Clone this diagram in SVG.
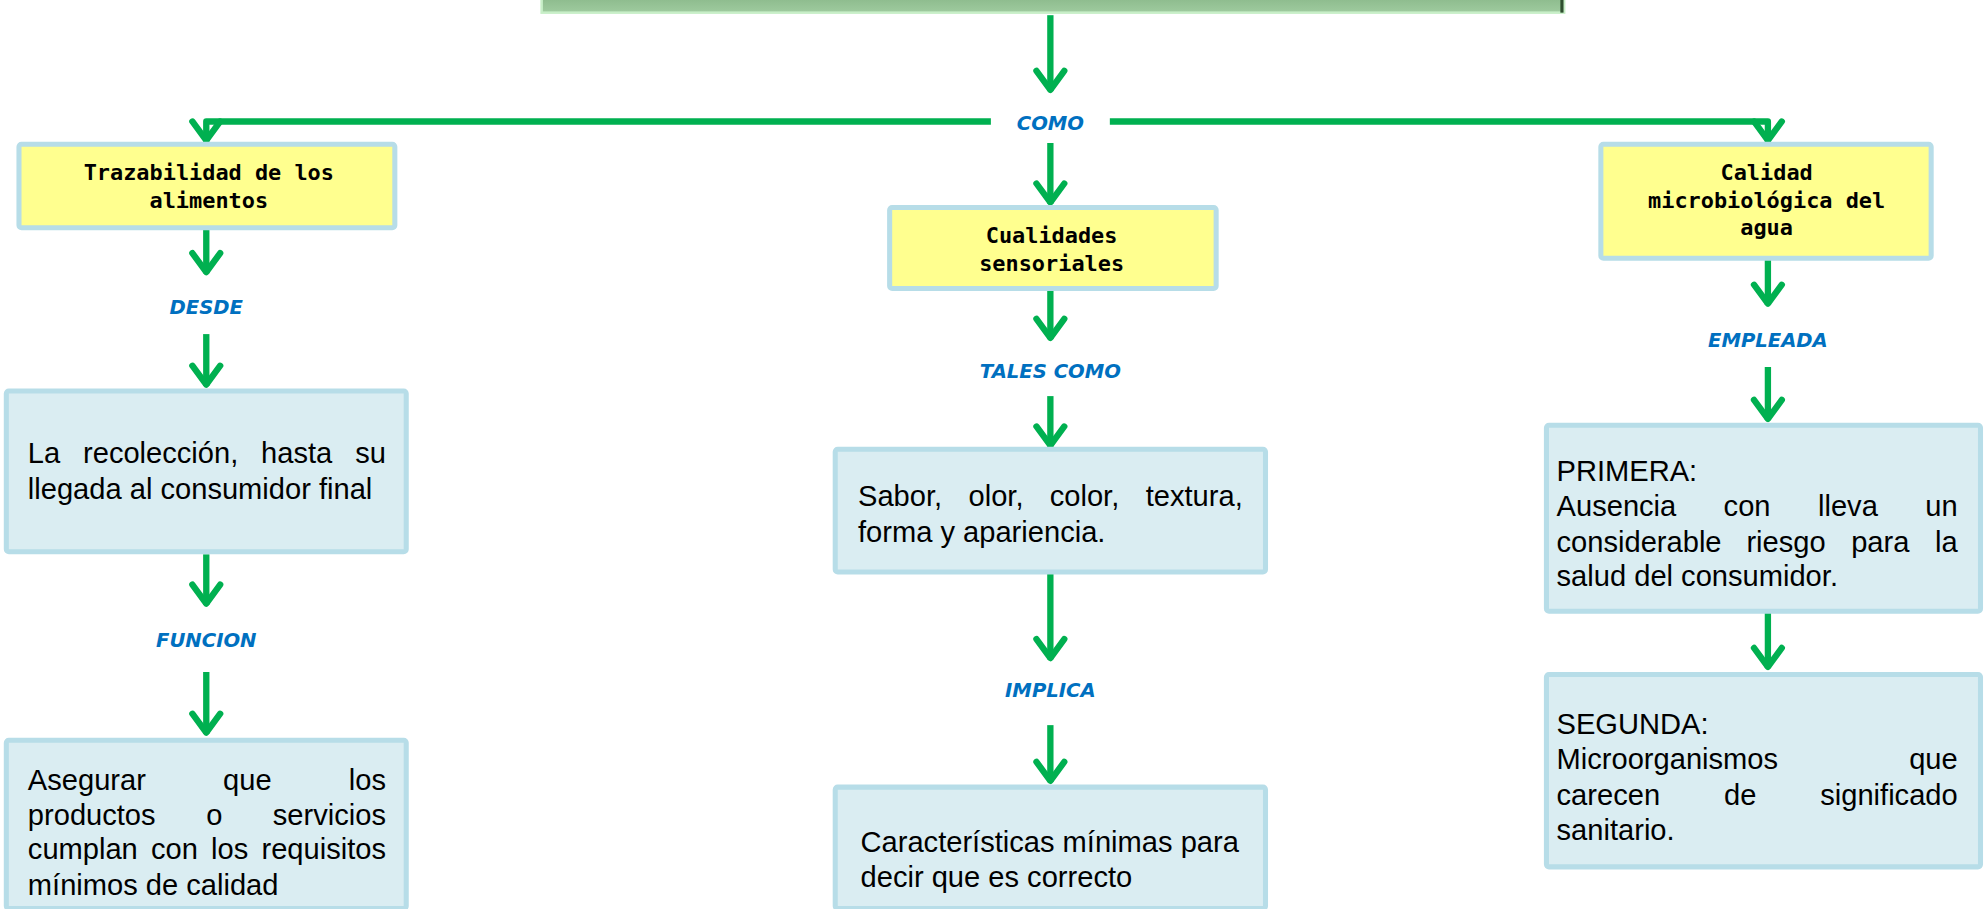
<svg xmlns="http://www.w3.org/2000/svg" width="1984" height="909" viewBox="0 0 1984 909">
<style>
.yb{fill:#ffff8f;stroke:#b7dde8;stroke-width:4}
.bb{fill:#daedf2;stroke:#b7dde8;stroke-width:4}
.ht{font-family:"DejaVu Sans Mono","Liberation Mono",monospace;font-weight:bold;font-size:17.3px;fill:#000;text-anchor:middle}
.bt{font-family:"Liberation Sans",Arial,sans-serif;font-size:23px;fill:#000}
.lb{font-family:"DejaVu Sans",sans-serif;font-style:italic;font-weight:bold;font-size:15.5px;fill:#0070c0;text-anchor:middle}
.cn{fill:none;stroke:#00b050;stroke-width:5;stroke-linejoin:round}
.e{text-anchor:end}
</style>
<defs>
<marker id="chev" markerUnits="userSpaceOnUse" markerWidth="30" markerHeight="30" viewBox="-20 -15 25 30" refX="0" refY="0" orient="auto" style="overflow:visible">
<path d="M-16,-11 L-1,0 L-16,11" fill="none" stroke="#00b050" stroke-width="5" stroke-linecap="round" stroke-linejoin="round"/>
</marker>
<linearGradient id="tg" x1="0" y1="0" x2="0" y2="1">
<stop offset="0" stop-color="#5f925f"/>
<stop offset="1" stop-color="#9fcb9f"/>
</linearGradient>
</defs>
<rect width="1984" height="909" fill="#ffffff"/>
<g transform="scale(1.2655)">

<g id="top">
<rect x="428" y="-30" width="808" height="40" fill="url(#tg)" stroke="#c8efc8" stroke-width="2"/>
<rect x="1233" y="-30" width="2.5" height="40" fill="#2f4f2f"/>
</g>

<g id="connectors">
<path class="cn" d="M830,12 V72" marker-end="url(#chev)"/>
<path class="cn" d="M783,96 H163 V112" marker-end="url(#chev)"/>
<path class="cn" d="M877,96 H1397 V112" marker-end="url(#chev)"/>
<path class="cn" d="M830,113 V161" marker-end="url(#chev)"/>
<path class="cn" d="M163,181 V216" marker-end="url(#chev)"/>
<path class="cn" d="M163,264 V305" marker-end="url(#chev)"/>
<path class="cn" d="M163,438 V478" marker-end="url(#chev)"/>
<path class="cn" d="M163,531 V580" marker-end="url(#chev)"/>
<path class="cn" d="M830,229 V268" marker-end="url(#chev)"/>
<path class="cn" d="M830,313 V353" marker-end="url(#chev)"/>
<path class="cn" d="M830,453 V521" marker-end="url(#chev)"/>
<path class="cn" d="M830,573 V618" marker-end="url(#chev)"/>
<path class="cn" d="M1397,205 V241" marker-end="url(#chev)"/>
<path class="cn" d="M1397,290 V332" marker-end="url(#chev)"/>
<path class="cn" d="M1397,484 V528" marker-end="url(#chev)"/>
</g>

<g id="labels">
<text class="lb" x="830" y="103">COMO</text>
<text class="lb" x="163" y="248">DESDE</text>
<text class="lb" x="163" y="511">FUNCION</text>
<text class="lb" x="830" y="299">TALES COMO</text>
<text class="lb" x="830" y="551">IMPLICA</text>
<text class="lb" x="1397" y="274">EMPLEADA</text>
</g>

<g id="n-trazabilidad">
<rect class="yb" x="15" y="114" width="297" height="66" rx="2"/>
<text class="ht" x="165" y="142">Trazabilidad de los</text>
<text class="ht" x="165" y="164">alimentos</text>
</g>

<g id="n-cualidades">
<rect class="yb" x="703" y="164" width="258" height="64" rx="2"/>
<text class="ht" x="831" y="192">Cualidades</text>
<text class="ht" x="831" y="214">sensoriales</text>
</g>

<g id="n-calidad">
<rect class="yb" x="1265" y="114" width="261" height="90" rx="2"/>
<text class="ht" x="1396" y="142">Calidad</text>
<text class="ht" x="1396" y="164">microbiológica del</text>
<text class="ht" x="1396" y="186">agua</text>
</g>

<g id="n-recoleccion">
<rect class="bb" x="5" y="309" width="316" height="127" rx="2"/>
<text class="bt" y="366"><tspan x="22">La</tspan><tspan x="65.6">recolección,</tspan><tspan x="206.3">hasta</tspan></text>
<text class="bt e" x="305" y="366">su</text>
<text class="bt" x="22" y="394">llegada al consumidor final</text>
</g>

<g id="n-asegurar">
<rect class="bb" x="5" y="585" width="316" height="133" rx="2"/>
<text class="bt" y="624"><tspan x="22">Asegurar</tspan><tspan x="176.3">que</tspan></text>
<text class="bt e" x="305" y="624">los</text>
<text class="bt" y="652"><tspan x="22">productos</tspan><tspan x="162.9">o</tspan></text>
<text class="bt e" x="305" y="652">servicios</text>
<text class="bt" y="679"><tspan x="22">cumplan</tspan><tspan x="119.3">con</tspan><tspan x="166.8">los</tspan></text>
<text class="bt e" x="305" y="679">requisitos</text>
<text class="bt" x="22" y="707">mínimos de calidad</text>
</g>

<g id="n-sabor">
<rect class="bb" x="660" y="355" width="340" height="97" rx="2"/>
<text class="bt" y="400"><tspan x="678">Sabor,</tspan><tspan x="765.3">olor,</tspan><tspan x="829.5">color,</tspan></text>
<text class="bt e" x="982" y="400">textura,</text>
<text class="bt" x="678" y="428">forma y apariencia.</text>
</g>

<g id="n-caracteristicas">
<rect class="bb" x="660" y="622" width="340" height="96" rx="2"/>
<text class="bt" x="680" y="673">Características mínimas para</text>
<text class="bt" x="680" y="701">decir que es correcto</text>
</g>

<g id="n-primera">
<rect class="bb" x="1222" y="336" width="343" height="147" rx="2"/>
<text class="bt" x="1230" y="380">PRIMERA:</text>
<text class="bt" y="408"><tspan x="1230">Ausencia</tspan><tspan x="1362">con</tspan><tspan x="1436.6">lleva</tspan></text>
<text class="bt e" x="1547" y="408">un</text>
<text class="bt" y="436"><tspan x="1230">considerable</tspan><tspan x="1380">riesgo</tspan><tspan x="1462.8">para</tspan></text>
<text class="bt e" x="1547" y="436">la</text>
<text class="bt" x="1230" y="463">salud del consumidor.</text>
</g>

<g id="n-segunda">
<rect class="bb" x="1222" y="533" width="343" height="152" rx="2"/>
<text class="bt" x="1230" y="580">SEGUNDA:</text>
<text class="bt" x="1230" y="608">Microorganismos</text>
<text class="bt e" x="1547" y="608">que</text>
<text class="bt" y="636"><tspan x="1230">carecen</tspan><tspan x="1362.3">de</tspan></text>
<text class="bt e" x="1547" y="636">significado</text>
<text class="bt" x="1230" y="664">sanitario.</text>
</g>
</g>
</svg>
